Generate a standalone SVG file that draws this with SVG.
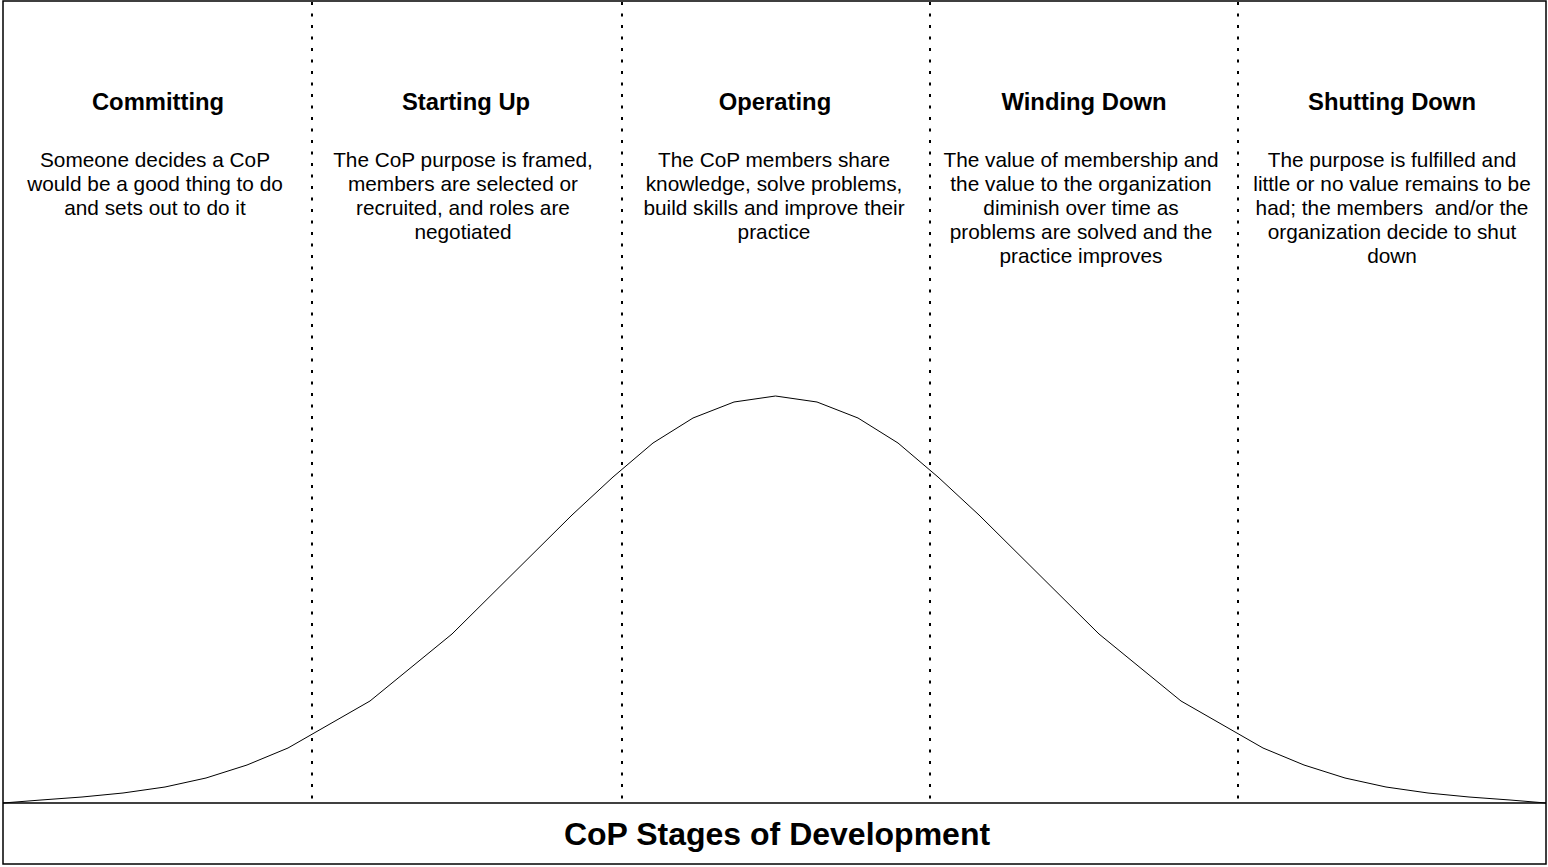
<svg xmlns="http://www.w3.org/2000/svg" width="1548" height="867" viewBox="0 0 1548 867">
<style>
.frame{fill:#fff;stroke:#000;stroke-width:1.5}
.sep{stroke:#000;stroke-width:2;stroke-dasharray:3 8.5;fill:none}
.curve{fill:none;stroke:#000;stroke-width:1;stroke-linejoin:round}
.title{font-family:"Liberation Sans",Arial,sans-serif;font-weight:bold;font-size:23.8px;text-anchor:middle;fill:#000}
.body{font-family:"Liberation Sans",Arial,sans-serif;font-size:20.8px;text-anchor:middle;fill:#000;white-space:pre}
.main{font-family:"Liberation Sans",Arial,sans-serif;font-weight:bold;font-size:32px;text-anchor:middle;fill:#000}
</style>
<rect class="frame" x="3" y="1" width="1543" height="863"/>
<line x1="3" y1="803" x2="1546" y2="803" stroke="#000" stroke-width="1.5"/>
<g id="connectors">
<line class="sep" x1="312" y1="2" x2="312" y2="800"/>
<line class="sep" x1="622" y1="2" x2="622" y2="800"/>
<line class="sep" x1="930" y1="2" x2="930" y2="800"/>
<line class="sep" x1="1238" y1="2" x2="1238" y2="800"/>
<polyline class="curve" points="3,803 41,800 82,797 123,793 165,787 206,778 247,765 288,748 370,701 452,634 572,515 613,477 653,443 693,418 734,402 775.5,396 817,402 858,418 898,443 938,477 979,515 1099,634 1181,701 1263,748 1304,765 1345,778 1386,787 1428,793 1469,797 1510,800 1546,803"/>
</g>
<g id="committing">
<text class="title" x="158" y="110">Committing</text>
<text class="body" x="155" y="167">Someone decides a CoP</text>
<text class="body" x="155" y="191">would be a good thing to do</text>
<text class="body" x="155" y="215">and sets out to do it</text>
</g>
<g id="starting-up">
<text class="title" x="466" y="110">Starting Up</text>
<text class="body" x="463" y="167">The CoP purpose is framed,</text>
<text class="body" x="463" y="191">members are selected or</text>
<text class="body" x="463" y="215">recruited, and roles are</text>
<text class="body" x="463" y="238.5">negotiated</text>
</g>
<g id="operating">
<text class="title" x="775" y="110">Operating</text>
<text class="body" x="774" y="167">The CoP members share</text>
<text class="body" x="774" y="191">knowledge, solve problems,</text>
<text class="body" x="774" y="215">build skills and improve their</text>
<text class="body" x="774" y="238.5">practice</text>
</g>
<g id="winding-down">
<text class="title" x="1084" y="110">Winding Down</text>
<text class="body" x="1081" y="167">The value of membership and</text>
<text class="body" x="1081" y="191">the value to the organization</text>
<text class="body" x="1081" y="215">diminish over time as</text>
<text class="body" x="1081" y="238.5">problems are solved and the</text>
<text class="body" x="1081" y="262.5">practice improves</text>
</g>
<g id="shutting-down">
<text class="title" x="1392" y="110">Shutting Down</text>
<text class="body" x="1392" y="167">The purpose is fulfilled and</text>
<text class="body" x="1392" y="191">little or no value remains to be</text>
<text class="body" x="1392" y="215">had; the members  and/or the</text>
<text class="body" x="1392" y="238.5">organization decide to shut</text>
<text class="body" x="1392" y="262.5">down</text>
</g>
<g id="footer">
<text class="main" x="777" y="845">CoP Stages of Development</text>
</g>
</svg>
